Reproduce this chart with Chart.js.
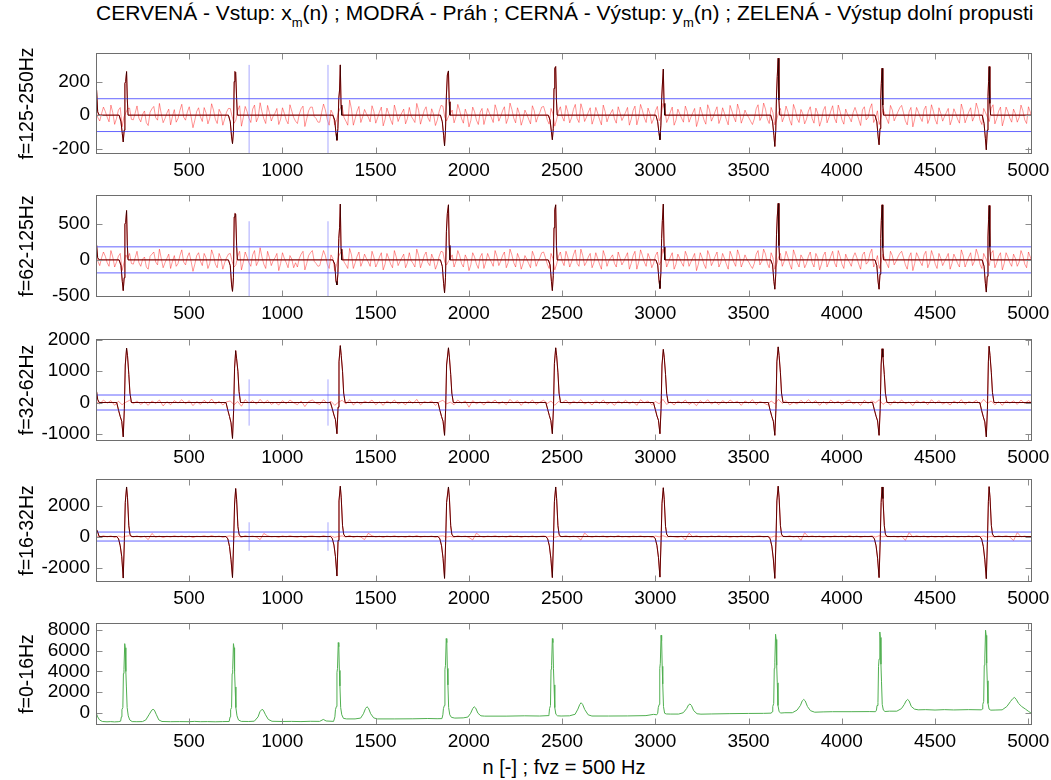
<!DOCTYPE html>
<html>
<head>
<meta charset="utf-8">
<script src="https://cdn.jsdelivr.net/npm/chart.js@4"></script>
<style>
	body { margin: 0; background: #fff; width: 1051px; height: 780px; position: relative; overflow: hidden; font-family: "Liberation Sans", Arial, sans-serif; }
	#titulo { position: absolute; left: 96px; width: 936px; top: 1px; text-align: center; font-size: 21px; line-height: 24px; white-space: nowrap; color: #000; }
	#titulo sub { font-size: 13px; vertical-align: -7px; line-height: 0; }
	#xlabel { position: absolute; left: 96px; width: 936px; top: 756px; text-align: center; font-size: 20px; line-height: 23px; color: #000; }
	.panel { position: absolute; left: 0; width: 1051px; }
</style>
</head>
<body>
<div id="titulo">CERVENÁ - Vstup: x<sub>m</sub>(n) ; MODRÁ - Práh ; CERNÁ - Výstup: y<sub>m</sub>(n) ; ZELENÁ - Výstup dolní propusti</div>
<div id="xlabel">n [-] ; fvz = 500 Hz</div>
<script>
// eje n (muestras)
const xMin = 1;
const xMax = 5020;
const xTicks = [500, 1000, 1500, 2000, 2500, 3000, 3500, 4000, 4500, 5000];
const noiseStep = [10, 10, 20, 20]; // cada cuantas muestras se leyo el ruido rojo

// bandas
const bandNames = ["f=125-250Hz", "f=62-125Hz", "f=32-62Hz", "f=16-32Hz", "f=0-16Hz"];
const yRanges = [[-232, 371], [-519, 907], [-1232, 2032], [-2935, 3715], [-1190, 8700]];
const yTicks1 = [-200, 0, 200];
const yTicks2 = [-500, 0, 500];
const yTicks3 = [-1000, 0, 1000, 2000];
const yTicks4 = [-2000, 0, 2000];
const yTicks5 = [0, 2000, 4000, 6000, 8000];

// prah (azul)
const thresholds = [98, 182, 240, 290];
const markerN = [822, 1245];
const markerH = [300, 540, 740, 920];

// vstup x_m(n): ruido (rojo)
const noise1 = [
	20,-15,-35,10,48,22,-12,-40,60,15,-55,-20,
	30,45,-70,-10,15,38,42,-25,-28,12,55,-18,
	-40,5,25,-45,-62,18,38,52,-15,-30,70,8,
	-45,-20,12,36,-58,-8,33,-42,-20,28,65,-12,
	-30,20,50,-10,-75,-30,22,44,-10,-38,45,14,
	-52,-18,68,30,-25,-50,35,12,-60,-22,18,40,
	40,-8,-48,-30,28,56,-66,-14,52,22,-18,-44,
	36,60,-40,-12,74,20,-22,-50,58,16,-35,-6,
	12,40,-56,-24,44,10,-30,-52,62,24,-14,-36,
	-50,6,38,54,-68,-22,26,48,48,-8,-20,-42,
	-42,16,66,30,-26,-60,30,8,-58,-30,16,44,
	50,-14,-36,-60,90,36,-60,-20,24,52,-44,-10,
	34,8,-12,-40,56,22,-48,-16,20,48,-64,-26,
	42,10,-28,-56,60,18,-38,-8,14,36,-52,-20,
	46,-6,-24,-44,70,28,-54,-12,28,50,-16,-38,
	38,6,-62,-30,22,58,54,-12,-34,-8,10,30,
	-46,-10,64,28,-20,-48,36,4,-70,-32,48,20,
	-30,-56,18,40,-56,-12,40,10,-14,-44,62,26,
	-36,-8,26,50,-50,-18,72,34,-18,-46,44,10,
	-60,-24,30,6,-24,-52,56,26,-42,-8,16,48,
	52,14,-30,-54,40,8,-66,-26,24,50,-10,-36,
	58,20,-46,-16,34,64,-20,-44,68,30,-38,-12,
	18,44,-54,-20,46,12,-26,-58,60,22,-40,-6,
	12,34,-22,-48,50,14,-32,-8,18,46,-60,-24,
	28,54,-58,-14,64,28,-16,-44,42,10,-50,-22,
	26,52,-34,-8,70,34,-44,-16,20,48,-60,-30,
	36,8,-18,-42,54,22,-42,-12,14,40,-68,-28,
	48,12,-28,-54,62,30,-36,-10,22,50,-50,-18,
	44,10,-26,-58,58,24,-12,-40,66,28,-48,-16,
	30,4,-14,-36,-56,-22,38,62,-32,-8,72,36,
	-24,-50,46,14,-58,-26,16,40,-40,-10,54,20,
	-30,-60,64,30,-20,-44,34,8,-52,-24,24,50,
	-20,-48,42,12,-66,-30,28,52,-46,-14,24,56,
	-18,-46,60,22,-28,-54,36,4,-14,-40,16,46,
	12,-26,-62,32,50,-28,-14,40,68,-44,-20,26,
	-56,-14,36,6,-22,-50,58,30,-34,-8,20,44,
	58,14,-34,-58,20,46,-70,-24,46,18,-14,-38,
	32,54,-50,-20,62,24,-26,-54,44,10,-36,-8,
	16,40,-58,-24,38,10,-24,-48,66,28,-46,-14,
	20,44,-36,-8,72,34,-30,-56,40,14,-12,-38,
	40,62,-52,-20,24,48,-64,-22,48,20,-18,-42,
	36,8,-42,-14,60,26,-28,-50,50,18,-20,-6
];
const noise2 = [
	60,-20,-80,30,110,50,-40,-90,130,40,-100,-30,
	50,90,-150,-40,70,20,90,-50,-60,30,120,-40,
	-90,10,40,-100,-130,50,80,110,-30,-70,150,20,
	-110,-40,20,80,-120,-20,60,-90,-50,60,140,-30,
	-70,40,100,-20,-160,-60,60,100,-20,-80,90,30,
	-120,-50,140,60,-60,-110,90,20,-130,-40,30,80,
	90,-20,-100,-70,50,120,-140,-30,110,40,-40,-90,
	70,130,-80,-20,170,40,-60,-120,120,30,-80,-10,
	30,90,-150,-50,100,20,-40,-110,60,10,-110,-40,
	-100,20,80,120,-140,-50,60,100,130,-20,-50,-90,
	-80,30,130,60,-60,-120,70,20,-150,-70,40,100,
	110,-30,-70,-120,160,70,-120,-40,50,110,-90,-20,
	80,20,-30,-90,120,40,-100,-40,40,100,-140,-60,
	90,20,-60,-110,130,40,-80,-20,30,80,-110,-40,
	100,-10,-50,-100,150,60,-110,-30,60,110,-40,-80,
	80,10,-130,-60,50,120,110,-30,-70,-20,20,70,
	-100,-20,130,60,-50,-100,70,10,-150,-70,100,40,
	-60,-120,40,90,-120,-30,90,20,-30,-90,130,50,
	-80,-20,60,110,-110,-40,150,70,-40,-100,90,20,
	-130,-50,60,10,-50,-110,120,50,-90,-20,30,100,
	110,30,-60,-120,90,20,-140,-60,50,110,-20,-80,
	120,40,-100,-30,70,140,-50,-90,150,60,-80,-30,
	40,90,-110,-40,100,20,-60,-130,130,50,-90,-10,
	30,70,-50,-100,110,30,-70,-20,40,100,-130,-50,
	60,120,-130,-30,140,60,-30,-90,90,20,-110,-50,
	60,110,-70,-20,150,70,-100,-30,40,100,-130,-60,
	80,20,-40,-90,120,50,-90,-30,30,90,-150,-60,
	100,30,-60,-120,130,60,-80,-20,50,110,-100,-40,
	90,20,-60,-130,120,50,-30,-90,140,60,-100,-30,
	70,10,-30,-80,-120,-50,80,130,-70,-20,150,80,
	-50,-110,100,30,-130,-60,40,90,-90,-20,120,40,
	-60,-130,140,60,-40,-100,70,20,-110,-50,50,110,
	-40,-100,90,30,-140,-60,60,110,-100,-30,50,120,
	-40,-100,130,50,-60,-120,80,10,-30,-90,40,100,
	30,-60,-130,70,110,-60,-30,90,150,-100,-40,60,
	-120,-30,80,10,-50,-110,120,60,-70,-20,40,90,
	120,30,-70,-130,40,100,-150,-50,100,40,-30,-80,
	70,120,-110,-40,130,50,-60,-120,90,20,-80,-20,
	30,90,-130,-50,80,20,-50,-100,140,60,-100,-30,
	40,100,-80,-20,150,70,-60,-120,90,30,-30,-80,
	90,130,-110,-40,50,100,-140,-50,100,40,-40,-90,
	80,20,-90,-30,130,60,-60,-110,110,40,-40,-10
];
const noise3 = [
	30,-50,80,-20,60,-90,40,-70,10,70,-40,50,
	-60,20,-90,50,-30,80,-110,30,-70,60,-20,90,
	-40,60,-100,30,-60,70,-30,110,-50,40,-80,20,
	50,-70,30,-120,90,-20,60,-50,100,-30,70,-60,
	10,-80,60,-40,80,-10,-70,50,-130,30,80,-20,
	-60,90,-30,40,-90,10,70,-50,90,-80,30,-60,
	40,-10,80,-70,20,-90,50,-30,80,-50,10,-70,
	60,-30,100,-80,30,-10,50,-90,20,70,-40,10,
	-70,80,-20,50,-150,60,-40,20,-80,50,-10,80,
	-50,30,-70,100,-20,60,-90,40,-30,80,-60,10,
	70,-30,50,-90,30,-10,80,-60,40,-20,90,-50,
	20,-80,60,-30,80,-60,10,-90,50,-30,70,-40,
	30,-90,90,-10,50,-70,30,-40,100,-60,20,-80,
	50,-20,80,-60,10,-100,60,-30,90,-50,30,-70,
	60,-30,80,-10,40,-90,50,-20,90,-70,30,-10,
	-80,50,-40,100,-30,60,-80,10,-50,70,-30,90,
	-20,60,-90,30,-60,80,-20,40,-70,30,80,-50,
	10,-90,70,-30,50,-10,90,-60,30,-80,50,-30,
	80,-40,20,-100,60,-10,40,-70,90,-30,60,-50,
	10,-80,50,-30,90,-60,30,-10,70,-50,100,-30,
	50,-70,30,-90,60,-20,50,-60,80,-30,60,-20
];
const noise4 = [
	0,-30,50,-20,40,-60,30,-40,20,50,-30,40,
	-50,20,-200,200,-40,30,-60,20,-30,50,-20,40,
	-40,30,-60,20,-10,50,-30,60,-20,30,-50,10,
	40,-40,20,-50,60,-10,30,-30,-200,200,50,-20,
	10,-50,40,-20,50,-10,-40,30,-60,20,40,-10,
	-30,60,-20,30,-50,10,40,-30,70,-50,20,-30,
	-200,210,50,-30,20,-50,30,-20,50,-30,10,-40,
	40,-20,60,-40,20,-10,30,-50,20,40,-30,10,
	-40,50,-10,30,-60,-220,220,20,-40,30,-10,50,
	-30,20,-40,60,-10,30,-50,20,-20,40,-30,10,
	40,-20,30,-50,20,-10,50,-30,30,-20,-230,230,
	20,-40,30,-10,40,-50,20,-30,60,-30,10,-40,
	30,-10,40,-30,10,-50,30,-20,50,-30,20,-10,
	-50,30,-220,220,-20,50,-40,10,-30,40,-20,50,
	-10,30,-50,10,-30,40,-20,30,-40,20,40,-30,
	10,-40,30,-20,40,-10,50,-30,20,-250,250,-20,
	40,-20,30,-50,10,-30,40,-10,30,-40,60,-20,
	30,-50,20,-10,40,-30,50,-20,30,-10,20,-40,
	30,-250,260,-30,50,-20,40,-50,20,-30,10,-40,
	50,-20,30,-40,10,-20,40,-30,50,-10,30,-40,
	20,-30,40,-10,50,-30,-260,260,-20,30,-40,20
];

// QRS (rojo + negro y_m(n))
const spikeN12 = [
	1,4,10,18,
	125,135,142,147,152,156,160,165,169,173,
	711,721,728,733,738,742,746,750,755,759,
	1271,1281,1288,1293,1298,1303,1307,1311,1315,1319,
	1848,1858,1865,1870,1875,1880,1885,1891,1895,1899,
	2426,2436,2443,2448,2453,2457,2461,2466,2470,2474,
	3003,3013,3020,3025,3030,3034,3038,3043,3047,3051,
	3619,3629,3636,3641,3646,3650,3654,3659,3663,3667,
	4178,4188,4195,4200,4205,4209,4212,4216,4220,4224,
	4753,4763,4770,4775,4780,4784,4787,4790,4794,4798,
	5020
];
const spikeV1 = [
	0,150,20,0,
	0,-40,-110,-160,-90,190,200,260,90,0,
	0,-40,-130,-170,-100,200,260,255,100,0,
	0,-30,-110,-150,-80,100,150,300,60,0,
	0,-40,-120,-183,-90,120,240,264,80,0,
	0,-30,-100,-147,-80,160,280,290,90,0,
	0,-40,-110,-147,-60,90,180,275,70,0,
	0,-40,-120,-187,-90,120,230,340,90,0,
	0,-40,-130,-177,-80,100,190,280,60,0,
	0,-50,-140,-207,-90,110,200,290,70,0,
	0
];
const spikeV2 = [
	0,210,30,0,
	0,-80,-300,-430,-250,500,520,690,200,0,
	0,-80,-350,-440,-250,600,650,640,200,0,
	0,-60,-300,-350,-200,300,450,780,150,0,
	0,-90,-330,-460,-250,400,650,770,200,0,
	0,-70,-300,-430,-220,450,700,770,200,0,
	0,-70,-290,-400,-180,300,550,780,180,0,
	0,-70,-300,-410,-200,350,600,790,200,0,
	0,-80,-310,-410,-200,300,550,770,170,0,
	0,-90,-330,-450,-230,320,560,760,180,0,
	0
];
const spikeN34 = [
	1,4,10,18,
	112,122,131,139,147,153,158,165,170,177,183,191,
	698,708,717,725,733,739,744,750,755,762,768,776,
	1258,1268,1277,1285,1293,1299,1304,1311,1316,1323,1329,1337,
	1835,1845,1854,1862,1870,1876,1881,1891,1896,1903,1909,1917,
	2413,2423,2432,2440,2448,2454,2459,2466,2471,2478,2484,2492,
	2990,3000,3009,3017,3025,3031,3036,3043,3048,3055,3061,3069,
	3606,3616,3625,3633,3641,3647,3652,3659,3664,3671,3677,3685,
	4165,4175,4184,4192,4200,4206,4211,4216,4221,4228,4234,4242,
	4740,4750,4759,4767,4775,4781,4786,4790,4795,4802,4808,4816,
	5020
];
const spikeV3 = [
	0,350,100,0,
	0,-250,-450,-600,-1100,-200,1200,1740,1500,900,300,0,
	0,-250,-450,-650,-1150,-250,1100,1660,1400,1000,350,0,
	0,-200,-400,-550,-1000,-150,1300,1820,1500,1000,300,0,
	0,-250,-450,-600,-1050,-200,1200,1750,1450,900,300,0,
	0,-220,-420,-580,-1000,-180,1250,1750,1500,950,300,0,
	0,-220,-430,-570,-1000,-200,1200,1700,1450,900,280,0,
	0,-250,-450,-600,-1050,-200,1300,1780,1500,950,300,0,
	0,-240,-440,-590,-1050,-200,1200,1720,1450,900,300,0,
	0,-260,-460,-620,-1100,-220,1300,1800,1500,950,320,0,
	0
];
const spikeV4 = [
	0,450,300,0,
	0,-150,-600,-1300,-2680,-300,2200,3200,2500,700,150,0,
	0,-150,-650,-1500,-2650,-350,2100,3100,2400,650,150,0,
	0,-120,-550,-1300,-2550,-250,2300,3250,2500,700,150,0,
	0,-150,-600,-1400,-2700,-300,2200,3200,2500,700,150,0,
	0,-150,-600,-1400,-2650,-300,2250,3200,2450,700,150,0,
	0,-140,-580,-1350,-2620,-280,2150,3150,2400,650,150,0,
	0,-150,-620,-1450,-2700,-300,2300,3250,2500,700,150,0,
	0,-150,-600,-1400,-2650,-300,2200,3200,2450,700,150,0,
	0,-160,-640,-1500,-2720,-320,2250,3220,2500,720,160,0,
	0
];

// dolni propust (zelena)
const greenN = [
	1,10,20,35,60,80,100,120,133,
	137,140,145,148,151,155,158,161,164,168,174,182,195,
	220,250,268,285,300,307,314,325,338,355,400,450,500,530,560,600,640,680,715,
	720,723,728,731,734,738,741,744,747,751,757,765,780,
	820,850,870,880,891,898,910,925,945,1000,1050,1100,1150,1200,1220,1235,1275,
	1282,1285,1290,1293,1296,1300,1303,1306,1309,1313,1319,1328,1345,
	1390,1420,1435,1446,1454,1462,1474,1490,1510,1600,1700,1780,1830,1856,
	1861,1864,1869,1872,1875,1879,1882,1885,1888,1892,1898,1907,1925,
	1970,1995,2010,2021,2029,2037,2049,2065,2085,2200,2300,2380,2425,
	2430,2433,2438,2441,2444,2448,2451,2454,2457,2461,2467,2476,2495,
	2540,2570,2585,2595,2602,2610,2622,2640,2660,2750,2850,2950,2990,3008,
	3013,3016,3021,3024,3027,3031,3034,3037,3040,3044,3050,3059,3080,
	3125,3150,3168,3178,3186,3194,3206,3224,3245,3300,3400,3500,3580,3622,
	3627,3630,3635,3638,3641,3645,3648,3651,3654,3658,3664,3673,3695,
	3735,3760,3778,3788,3796,3804,3816,3832,3855,3900,3950,4050,4150,4181,
	4186,4189,4194,4197,4200,4204,4207,4210,4213,4217,4223,4232,4255,
	4295,4320,4335,4345,4353,4361,4373,4390,4410,4450,4500,4550,4600,4680,4748,
	4753,4756,4761,4764,4767,4771,4774,4777,4780,4784,4790,4799,4822,
	4860,4885,4905,4916,4926,4935,4948,4965,4985,5000,5020
];
const greenV = [
	0,-400,-700,-850,-880,-860,-890,-870,-820,
	-400,300,500,3800,4200,6700,6300,4000,2500,500,-300,-700,-860,
	-870,-860,-700,-200,250,330,250,-200,-700,-850,-870,-860,-870,-840,-870,-860,-880,-860,-850,
	-400,300,500,3800,4200,6700,6300,4000,2500,500,-300,-700,-840,
	-850,-820,-400,100,330,250,-200,-650,-830,-850,-840,-860,-830,-840,-650,-800,-840,
	-400,300,600,3900,4300,6800,6400,4100,2600,500,-200,-550,-600,
	-600,-520,-100,400,580,450,-100,-500,-600,-600,-590,-560,-580,-570,
	-200,400,700,4200,4600,7190,6800,4300,2700,500,-200,-450,-520,
	-500,-420,-50,400,580,450,-50,-300,-330,-330,-300,-320,-280,
	-150,400,700,4200,4600,7190,6800,4300,2700,500,-150,-300,-320,
	-300,-150,350,800,970,820,300,-200,-320,-320,-310,-280,-160,-200,
	-50,500,800,4300,4800,7510,7000,4500,2800,600,-50,-120,-130,
	-130,0,400,750,850,700,200,-100,-140,-120,-90,-70,-60,-40,
	100,600,900,4300,4900,7610,7100,4600,2900,700,100,-30,0,
	0,250,700,1150,1290,1150,600,200,50,80,100,100,110,100,
	250,700,1000,4500,5200,7830,7300,4700,3000,800,250,120,150,
	150,400,800,1150,1290,1150,600,350,280,300,260,300,270,300,280,
	350,800,1100,4600,5300,8000,7500,4800,3100,900,350,250,260,
	280,600,1100,1350,1490,1300,900,600,350,150,-100
];

// posicion de cada subgrafico
const panelTop = [43, 185, 329, 469, 613];
const areaHeight = [101, 102, 102, 103, 102];

const pairs = (xs, ys) => xs.map((x, i) => ({ x: x, y: ys[i] }));
const sampled = (vals, step) => vals.map((v, i) => ({ x: xMin + i * step, y: v }));
const hline = (v) => [{ x: xMin, y: v }, { x: xMax, y: v }];
const vline = (n, h) => [{ x: n, y: -h }, { x: n, y: h }];

const tickFont = { family: "'Liberation Sans', Arial, sans-serif", size: 19 };
const titleFont = { family: "'Liberation Sans', Arial, sans-serif", size: 19.5 };

// caja y marcas hacia dentro (estilo matlab)
const boxPlugin = {
	id: "box",
	afterDraw(chart) {
		const { ctx, chartArea: a, scales: { x, y } } = chart;
		const l = Math.round(a.left) + 0.5, r = Math.round(a.right) - 0.5;
		const t = Math.round(a.top) + 0.5, b = Math.round(a.bottom) - 0.5;
		ctx.save();
		ctx.lineWidth = 1;
		ctx.strokeStyle = "#8c8c8c";
		ctx.beginPath();
		x.ticks.forEach((tk) => {
			const px = Math.round(x.getPixelForValue(tk.value)) + 0.5;
			ctx.moveTo(px, t); ctx.lineTo(px, t + 6);
			ctx.moveTo(px, b); ctx.lineTo(px, b - 6);
		});
		y.ticks.forEach((tk) => {
			const py = Math.round(y.getPixelForValue(tk.value)) + 0.5;
			ctx.moveTo(l, py); ctx.lineTo(l + 6, py);
			ctx.moveTo(r, py); ctx.lineTo(r - 6, py);
		});
		ctx.stroke();
		ctx.strokeStyle = "#6e6e6e";
		ctx.strokeRect(l, t, r - l, b - t);
		ctx.restore();
	},
};

function makePanel(k, datasets, yTicks) {
	const div = document.createElement("div");
	div.className = "panel";
	div.style.top = panelTop[k] + "px";
	const h = 10 + areaHeight[k] + 30;
	div.style.height = h + "px";
	const canvas = document.createElement("canvas");
	canvas.width = 1051;
	canvas.height = h;
	div.appendChild(canvas);
	document.body.appendChild(div);

	new Chart(canvas, {
		type: "line",
		data: { datasets: datasets },
		options: {
			responsive: false,
			animation: false,
			events: [],
			layout: { padding: { top: 10, right: 19, bottom: 0, left: 0 } },
			plugins: { legend: { display: false }, tooltip: { enabled: false } },
			elements: { point: { radius: 0 }, line: { borderWidth: 1, tension: 0 } },
			scales: {
				x: {
					type: "linear",
					min: xMin,
					max: xMax,
					grid: { display: false, drawTicks: false },
					border: { display: false },
					afterBuildTicks: (s) => { s.ticks = xTicks.map((v) => ({ value: v })); },
					afterFit: (s) => { s.height = 30; s.paddingLeft = 0; s.paddingRight = 0; },
					ticks: { color: "#000", font: tickFont, padding: 5, maxRotation: 0, autoSkip: false, callback: (v) => String(v) },
				},
				y: {
					type: "linear",
					min: yRanges[k][0],
					max: yRanges[k][1],
					grid: { display: false, drawTicks: false },
					border: { display: false },
					afterBuildTicks: (s) => { s.ticks = yTicks.map((v) => ({ value: v })); },
					afterFit: (s) => { s.width = 96; s.paddingTop = 0; s.paddingBottom = 0; },
					ticks: { color: "#000", font: tickFont, padding: 6, autoSkip: false, callback: (v) => String(v) },
					title: { display: true, text: bandNames[k], color: "#000", font: titleFont, padding: { top: 16, bottom: 0 } },
				},
			},
		},
		plugins: [boxPlugin],
	});
}

function bandDatasets(k, spikeN, spikeV, noise) {
	const th = thresholds[k];
	return [
		{ data: pairs(spikeN, spikeV), borderColor: "rgba(0,0,0,0.55)" },
		{ data: hline(th), borderColor: "rgb(100,100,255)" },
		{ data: hline(-th), borderColor: "rgb(100,100,255)" },
		{ data: vline(markerN[0], markerH[k]), borderColor: "rgba(140,140,255,0.75)" },
		{ data: vline(markerN[1], markerH[k]), borderColor: "rgba(140,140,255,0.75)" },
		{ data: pairs(spikeN, spikeV), borderColor: "rgb(220,0,0)" },
		{ data: sampled(noise, noiseStep[k]), borderColor: "rgba(255,0,0,0.42)" },
	];
}

makePanel(0, bandDatasets(0, spikeN12, spikeV1, noise1), yTicks1);
makePanel(1, bandDatasets(1, spikeN12, spikeV2, noise2), yTicks2);
makePanel(2, bandDatasets(2, spikeN34, spikeV3, noise3), yTicks3);
makePanel(3, bandDatasets(3, spikeN34, spikeV4, noise4), yTicks4);
makePanel(4, [{ data: pairs(greenN, greenV), borderColor: "rgb(80,175,80)" }], yTicks5);
</script>
</body>
</html>
